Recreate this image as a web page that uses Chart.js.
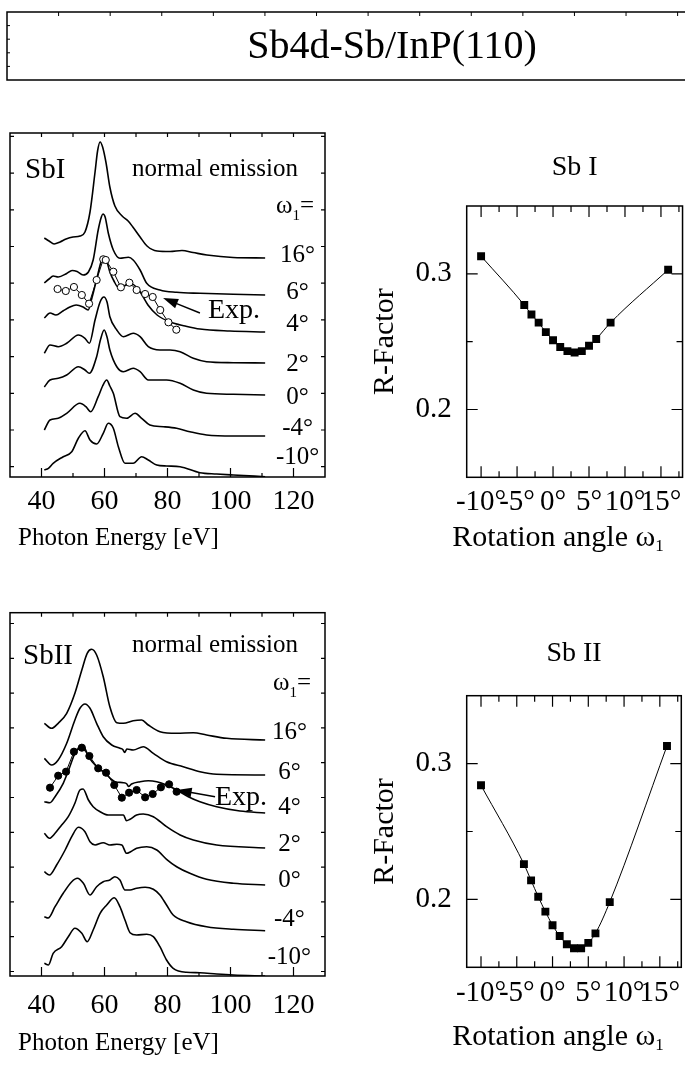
<!DOCTYPE html>
<html>
<head>
<meta charset="utf-8">
<script src="https://cdn.jsdelivr.net/npm/chart.js@4.4.1/dist/chart.umd.min.js"></script>
<style>
html,body{margin:0;padding:0;background:#fff;overflow:hidden;width:685px;height:1067px;}
canvas{position:absolute;}
</style>
</head>
<body>
<canvas id="cTitle" width="700" height="100" style="left:0;top:0"></canvas>
<canvas id="cTL" width="340" height="470" style="left:0;top:100px"></canvas>
<canvas id="cBL" width="340" height="487" style="left:0;top:580px"></canvas>
<canvas id="cTR" width="330" height="430" style="left:360px;top:140px"></canvas>
<canvas id="cBR" width="330" height="467" style="left:360px;top:600px"></canvas>
<script>
// ================= DATA =================
const energyTicks = [40, 60, 80, 100, 120];
const angleTicks = [-10, -5, 0, 5, 10, 15];
const rTicks = [0.2, 0.3];
const angleLabels = ['16°', '6°', '4°', '2°', '0°', '-4°', '-10°'];

// --- Sb I spectra: photon energy (eV) and intensity (arb. units, relative to each curve's baseline)
const sbI_offsets = [219, 182, 145, 114, 82, 41, 0];
const sbI_E_16 = [40.9,42.4,44.0,45.9,47.8,50.0,52.2,53.8,55.4,57.0,57.8,58.6,59.4,60.5,61.7,63.3,65.6,67.5,69.0,71.3,73.5,76.7,80.8,84.6,88.1,92.5,100.8,111.0];
const sbI_I_16 = [20,17,14,16,19,21,22,26,46,86,107,116,111,95,71,52,42,37,31,21,12,7,6.5,7.5,5.5,3,0.5,0];
const sbI_E_6 = [40.9,42.4,43.7,45.3,48.0,49.7,51.3,53.2,54.9,56.4,58.0,59.0,59.5,60.2,61.2,62.8,64.9,67.6,69.1,71.3,73.4,77.6,82.9,90.3,100.9,111.0];
const sbI_I_6 = [12,16,19,18,21.5,24.5,23.5,20,23,35,65,78,81,78,62,45,36.7,37.7,35,25,11.7,5,2.7,1.7,0.7,0];
const sbI_E_4 = [40.9,42.7,44.6,46.8,49.0,51.0,53.2,54.8,56.0,57.6,58.9,59.8,60.8,61.7,63.0,64.3,66.2,68.7,71.3,73.8,76.7,80.8,85.6,90.3,99.8,111.0];
const sbI_I_4 = [14,19,17,21,25,27,25,22,34,54,70,74,70,60,51,45,46,48,40,27,17,10,6,3,1,0];
const sbI_E_2 = [40.9,42.7,45.3,48.0,51.7,53.8,55.2,57.0,58.6,59.8,60.8,61.7,63.9,66.0,69.1,71.3,73.9,77.6,80.8,84.0,88.2,92.4,100.9,111.0];
const sbI_I_2 = [9.7,18,16.3,19.7,28,24.7,19.7,43,61,66,61,46.3,33,26.3,29.7,26.3,16.3,13,13,11.3,4.7,1.3,0.3,0];
const sbI_E_0 = [40.9,42.7,45.3,48.0,51.7,53.8,55.2,57.5,58.7,59.9,60.8,61.7,63.9,66.0,69.1,71.3,73.9,76.6,79.7,84.0,88.2,92.4,100.9,111.0];
const sbI_I_0 = [8,15,16.7,20,28.3,25,21.7,38.3,55,65,58,45,28.3,23.3,26.7,23.3,15,15,15,11.7,5,1.7,0.7,0];
const sbI_E_m4 = [40.9,42.7,45.3,48.0,52.2,54.1,55.6,58.0,59.4,60.7,61.7,62.8,64.9,67.0,69.7,71.8,74.4,78.7,82.9,87.1,92.4,100.9,111.0];
const sbI_I_m4 = [6,16,17.7,22.7,32.7,29.3,24.3,39.3,50,56,50,42.7,19.3,17.7,22.7,17.7,11,9.3,7.7,4.3,1,0,0];
const sbI_E_m10 = [40.9,42.2,43.7,46.9,49.6,51.7,53.8,55.4,57.5,59.6,61.2,62.8,64.4,66.5,69.1,71.8,73.9,76.6,79.7,84.0,90.3,95.6,100.9,111.0];
const sbI_I_m10 = [7,8.7,13.7,20.3,25.3,38.7,46.3,37,33,43.7,53.7,48.7,30.3,13.7,13.7,20.3,17,12,11,10.3,4.3,3,2,0.3];
const sbI_expE = [45.1,47.7,50.3,52.8,55.1,57.5,59.6,60.4,62.8,65.2,67.9,70.2,72.9,75.3,77.7,80.3,82.8];
const sbI_expI = [43,41,45,37,28.3,52,72.7,72,60.3,44.7,49.3,42,38,35,22,9.7,2.3];
const sbI_expOffset = 145;

// --- Sb II spectra
const sbII_offsets = [236, 201, 163, 128, 91, 45, 0];
const sbII_E_16 = [40.9,43.2,45.3,48.0,50.6,52.8,54.5,55.9,57.5,59.6,61.7,63.9,66.0,69.1,71.8,73.9,77.6,82.9,88.2,92.4,98.8,111.0];
const sbII_I_16 = [16.7,11.7,16.7,26.7,46.7,70,86.7,90.7,85,63.3,33.3,17.3,16.7,19.3,20,15,8.3,6.7,7.3,5,1.7,0];
const sbII_E_6 = [40.9,43.2,45.3,48.0,50.6,52.2,53.8,55.4,57.5,59.6,62.3,64.9,65.8,66.4,67.1,69.1,72.3,75.5,79.7,85.0,90.3,95.6,111.0];
const sbII_I_6 = [16.7,10,15,31.7,55,66.7,71,66.7,51.7,38.3,30,26.7,25.5,22.5,26,25,28.3,21.7,13.3,8.3,3.3,0.7,0];
const sbII_E_4 = [40.9,42.7,44.3,46.9,49.0,50.6,52.2,53.2,54.9,57.5,60.2,63.3,66.0,67.1,67.6,68.6,71.3,73.9,76.6,79.7,82.9,86.6,90.3,95.6,103.0,111.0];
const sbII_I_4 = [11.3,10.3,16.3,29.7,46.3,59.7,66.3,67.5,56.3,46.3,39.7,31.3,30.3,29,26.5,29,31.3,32.3,31.3,28,23,16.3,11.3,6.3,2,0];
const sbII_E_2 = [40.9,42.5,44.3,46.4,48.5,50.6,52.2,53.2,54.9,56.4,58.6,61.2,63.9,66.0,67.0,68.1,70.2,72.3,75.5,79.7,84.0,88.2,95.6,111.0];
const sbII_I_2 = [14.7,9.7,14.7,23,31.3,44.7,58,59,48,41.3,36.3,33,33,33,27.3,28.7,33,34,31.3,21.3,13,8,3,0];
const sbII_E_0 = [40.9,42.5,44.8,47.5,49.6,51.7,53.8,55.4,57.0,59.6,61.7,63.9,65.5,67.0,68.3,70.2,73.4,76.6,79.7,82.9,87.1,92.4,100.9,111.0];
const sbII_I_0 = [13.3,10,20,35,48.3,57.7,53.3,43.3,40,42.3,40,40.7,40,31.7,33.3,36.7,38.3,35,25.7,18.3,11.7,5.7,1.7,0];
const sbII_E_m4 = [40.9,42.1,44.3,46.9,49.6,51.4,53.3,55.4,57.5,59.6,61.7,63.3,64.9,66.5,68.1,70.2,72.9,75.5,77.6,79.7,81.8,86.0,92.4,100.9,111.0];
const sbII_I_m4 = [14.3,13,24.3,37.7,49.3,52.7,47.7,36,44.3,49.3,51,54.3,51,41,41,42.7,43.7,41.7,36,26,16,9.3,4.3,1.7,0.3];
const sbII_E_m10 = [40.9,42.2,43.7,46.4,48.5,50.6,52.8,54.5,56.4,58.6,60.7,63.1,64.9,66.5,68.1,70.2,73.4,75.5,77.6,79.7,81.8,86.0,90.3,95.6,100.9,111.0];
const sbII_I_m10 = [12.7,11,22.7,29.3,39.3,47.7,42.7,34.3,46,62.7,71,78.3,69.3,56,43.3,41,41.7,39.3,29.3,16,7.7,3.7,3.3,2,1,0];
const sbII_expE = [42.7,45.3,47.8,50.3,52.8,55.2,58.0,60.5,63.1,65.5,67.8,70.2,72.9,75.3,77.9,80.5,82.9];
const sbII_expI = [25.3,37.3,41.3,61.3,65.3,57,44.7,40.3,28,15.3,20.3,23,15.7,19,25.7,28.7,21.3];
const sbII_expOffset = 163;

// --- R-factor vs rotation angle
const rotAngles = [-10,-4,-3,-2,-1,0,1,2,3,4,5,6,8,16];
const rFactorSbI = [0.313,0.277,0.270,0.264,0.257,0.251,0.246,0.243,0.242,0.243,0.247,0.252,0.264,0.303];
const rFactorSbII = [0.284,0.226,0.214,0.202,0.191,0.181,0.173,0.167,0.164,0.164,0.168,0.175,0.198,0.313];

// ================= RENDERING =================
const FONT = "'Liberation Serif', 'Times New Roman', Times, serif";
Chart.defaults.font.family = FONT;
Chart.defaults.color = '#000';

function framePlugin(f) {
  return { id: 'frame', afterDatasetsDraw(chart) {
    const { ctx, chartArea: a, scales } = chart;
    const x = scales.x, y = scales.y;
    ctx.save();
    ctx.strokeStyle = '#000';
    ctx.lineWidth = f.width || 1.5;
    ctx.strokeRect(a.left, a.top, a.right - a.left, a.bottom - a.top);
    ctx.lineWidth = f.tickWidth || 1.2;
    ctx.beginPath();
    (f.bottom || []).forEach(([vals, len]) => vals.forEach(v => { const p = x.getPixelForValue(v); ctx.moveTo(p, a.bottom); ctx.lineTo(p, a.bottom - len); }));
    (f.top || []).forEach(([vals, len]) => vals.forEach(v => { const p = x.getPixelForValue(v); ctx.moveTo(p, a.top); ctx.lineTo(p, a.top + len); }));
    (f.left || []).forEach(([vals, len]) => vals.forEach(v => { const p = y.getPixelForValue(v); ctx.moveTo(a.left, p); ctx.lineTo(a.left + len, p); }));
    (f.right || []).forEach(([vals, len]) => vals.forEach(v => { const p = y.getPixelForValue(v); ctx.moveTo(a.right, p); ctx.lineTo(a.right - len, p); }));
    ctx.stroke();
    ctx.restore();
  }};
}

function textPlugin(items) {
  return { id: 'texts', afterDraw(chart) {
    const { ctx, scales } = chart;
    items.forEach(it => {
      const px = it.data ? scales.x.getPixelForValue(it.x) : it.x;
      const py = it.data ? scales.y.getPixelForValue(it.y) : it.y;
      const parts = it.parts || [{ t: it.text, size: it.size }];
      ctx.save();
      ctx.fillStyle = '#000';
      ctx.textBaseline = it.baseline || 'middle';
      ctx.textAlign = 'left';
      const widths = parts.map(p => { ctx.font = p.size + 'px ' + FONT; return ctx.measureText(p.t).width; });
      const total = widths.reduce((s, w) => s + w, 0);
      let cx = it.align === 'center' ? px - total / 2 : (it.align === 'right' ? px - total : px);
      parts.forEach((p, i) => { ctx.font = p.size + 'px ' + FONT; ctx.fillText(p.t, cx, py + (p.dy || 0)); cx += widths[i]; });
      ctx.restore();
    });
  }};
}

function arrowPlugin(arrows) {
  return { id: 'arrows', afterDatasetsDraw(chart) {
    const { ctx, scales } = chart;
    arrows.forEach(a => {
      const x1 = scales.x.getPixelForValue(a.x1), y1 = scales.y.getPixelForValue(a.y1);
      const x2 = scales.x.getPixelForValue(a.x2), y2 = scales.y.getPixelForValue(a.y2);
      const ang = Math.atan2(y2 - y1, x2 - x1), L = 15, W = 5;
      const c = Math.cos(ang), s = Math.sin(ang);
      ctx.save();
      ctx.strokeStyle = '#000'; ctx.fillStyle = '#000'; ctx.lineWidth = 1.4;
      ctx.beginPath(); ctx.moveTo(x1, y1); ctx.lineTo(x2 - c * L * 0.8, y2 - s * L * 0.8); ctx.stroke();
      ctx.beginPath(); ctx.moveTo(x2, y2);
      ctx.lineTo(x2 - c * L - s * W, y2 - s * L + c * W);
      ctx.lineTo(x2 - c * L + s * W, y2 - s * L - c * W);
      ctx.closePath(); ctx.fill();
      ctx.restore();
    });
  }};
}

const baseOpts = () => ({
  responsive: false, animation: false, devicePixelRatio: 1,
  plugins: { legend: { display: false }, tooltip: { enabled: false }, title: { display: false } },
  elements: { point: { radius: 0 } }
});

// ---------- Title box ----------
(function () {
  const o = baseOpts();
  o.layout = { padding: { left: 7, top: 12, right: 10, bottom: 20 } };
  o.scales = { x: { type: 'linear', min: 0, max: 13.24, display: false }, y: { type: 'linear', min: 0, max: 1, display: false } };
  new Chart(document.getElementById('cTitle'), {
    type: 'scatter', data: { datasets: [] }, options: o,
    plugins: [
      framePlugin({ width: 1.5, tickWidth: 1, top: [[[1,2,3,4,5,6,7,8,9,10,11,12,13], 4]], left: [[[0.2,0.4,0.6,0.8], 3]] }),
      textPlugin([{ text: 'Sb4d-Sb/InP(110)', size: 40, x: 392, y: 47, align: 'center' }])
    ]
  });
})();

// ---------- Spectra panels ----------
function spectraChart(id, P) {
  const datasets = [{
    data: P.expE.map((e, i) => ({ x: e, y: P.expI[i] + P.expOffset })),
    borderColor: '#000', borderWidth: 1, tension: 0,
    pointRadius: 3.6, pointBorderWidth: 1, pointBackgroundColor: P.expFill, pointBorderColor: '#000'
  }];
  P.curvesE.forEach((E, k) => datasets.push({
    data: E.map((e, i) => ({ x: e, y: P.curvesI[k][i] + P.offsets[k] })),
    borderColor: '#000', borderWidth: 1.6, pointRadius: 0, cubicInterpolationMode: 'monotone'
  }));
  const o = baseOpts();
  o.layout = { padding: P.padding };
  o.scales = {
    x: {
      type: 'linear', min: 30, max: 130, position: 'bottom',
      grid: { display: false, drawTicks: false }, border: { display: false },
      ticks: { font: { size: 28 }, padding: P.tickPad, autoSkip: false, maxRotation: 0, minRotation: 0, color: '#000' },
      afterBuildTicks: s => { s.ticks = energyTicks.map(v => ({ value: v })); },
      afterFit: s => { s.height = P.xAxisH; }
    },
    y: { type: 'linear', min: 0, max: P.yMax, display: false }
  };
  const texts = [
    { text: P.name, size: 29, x: P.nameX, y: P.nameY, baseline: 'alphabetic' },
    { text: 'normal emission', size: 25, x: 132, y: P.neY, baseline: 'alphabetic' },
    { parts: [{ t: 'ω', size: 25 }, { t: '1', size: 15, dy: 7 }, { t: '=', size: 25 }], x: P.omegaX, y: P.omegaY, align: 'center', baseline: 'alphabetic' },
    { text: 'Exp.', size: 28, x: P.expTextX, y: P.expTextY, baseline: 'alphabetic' },
    { text: 'Photon Energy [eV]', size: 25, x: 18, y: P.axisTitleY }
  ];
  angleLabels.forEach((t, k) => texts.push({ text: t, size: 25, data: true, x: P.labelX, y: P.labelY[k], align: 'center' }));
  const ySteps = Array.from({ length: P.yTickN }, (_, i) => P.yTick0 + P.yTickStep * i);
  return new Chart(document.getElementById(id), {
    type: 'line', data: { datasets }, options: o,
    plugins: [
      framePlugin({ width: 1.5, tickWidth: 1.2,
        bottom: [[energyTicks, 9], [[50, 70, 90, 110], 4]],
        top: [[[40, 50, 60, 70, 80, 90, 100, 110, 120], 4]],
        left: [[ySteps, 4]], right: [[ySteps, 4]] }),
      arrowPlugin([P.arrow]),
      textPlugin(texts)
    ]
  });
}

spectraChart('cTL', {
  name: 'SbI', curvesE: [sbI_E_16, sbI_E_6, sbI_E_4, sbI_E_2, sbI_E_0, sbI_E_m4, sbI_E_m10],
  curvesI: [sbI_I_16, sbI_I_6, sbI_I_4, sbI_I_2, sbI_I_0, sbI_I_m4, sbI_I_m10],
  offsets: sbI_offsets, expE: sbI_expE, expI: sbI_expI, expOffset: sbI_expOffset, expFill: '#fff',
  padding: { left: 10, top: 33, right: 15, bottom: 0 }, yMax: 344, xAxisH: 93, tickPad: 8,
  nameX: 25, nameY: 78, neY: 76, omegaX: 295, omegaY: 113, expTextX: 208, expTextY: 218, axisTitleY: 438,
  labelX: 121.3, labelY: [222, 185, 153, 113, 80, 49, 20],
  arrow: { x1: 90.3, y1: 164, x2: 78.6, y2: 179 },
  yTick0: 10.3, yTickStep: 36.7, yTickN: 10
});

spectraChart('cBL', {
  name: 'SbII', curvesE: [sbII_E_16, sbII_E_6, sbII_E_4, sbII_E_2, sbII_E_0, sbII_E_m4, sbII_E_m10],
  curvesI: [sbII_I_16, sbII_I_6, sbII_I_4, sbII_I_2, sbII_I_0, sbII_I_m4, sbII_I_m10],
  offsets: sbII_offsets, expE: sbII_expE, expI: sbII_expI, expOffset: sbII_expOffset, expFill: '#000',
  padding: { left: 10, top: 32.7, right: 15, bottom: 0 }, yMax: 363.3, xAxisH: 91, tickPad: 13,
  nameX: 23, nameY: 84, neY: 71.7, omegaX: 292, omegaY: 110, expTextX: 215, expTextY: 225, axisTitleY: 463,
  labelX: 118.7, labelY: [244, 204, 169, 132, 96, 57, 19],
  arrow: { x1: 95.1, y1: 179.3, x2: 82.9, y2: 186 },
  yTick0: 4.5, yTickStep: 34.8, yTickN: 11
});

// ---------- R-factor panels ----------
function rChart(id, P) {
  const o = baseOpts();
  o.layout = { padding: { left: 0, top: 0, right: 2.8, bottom: 0 } };
  o.plugins.title = { display: true, text: P.title, fullSize: false, color: '#000',
    font: { size: 28, weight: 'normal' }, padding: { top: P.titlePadTop, bottom: P.titlePadBottom } };
  o.scales = {
    x: {
      type: 'linear', min: -12, max: 18,
      grid: { display: false, drawTicks: false }, border: { display: false },
      ticks: { font: { size: 29 }, padding: P.tickPad, autoSkip: false, maxRotation: 0, minRotation: 0, callback: v => v + '°' },
      afterBuildTicks: s => { s.ticks = angleTicks.map(v => ({ value: v })); },
      afterFit: s => { s.height = P.xAxisH; }
    },
    y: {
      type: 'linear', min: 0.15, max: 0.35,
      grid: { display: false, drawTicks: false }, border: { display: false },
      ticks: { font: { size: 29 }, padding: 15, callback: v => Number(v).toFixed(1) },
      afterBuildTicks: s => { s.ticks = rTicks.map(v => ({ value: v })); },
      afterFit: s => { s.width = 106.7; },
      title: { display: true, text: 'R-Factor', font: { size: 30 }, padding: { top: 7, bottom: 0 } }
    }
  };
  return new Chart(document.getElementById(id), {
    type: 'line',
    data: { datasets: [{
      data: rotAngles.map((a, i) => ({ x: a, y: P.values[i] })),
      borderColor: '#000', borderWidth: 1, cubicInterpolationMode: 'monotone',
      pointStyle: 'rect', pointRadius: 5.6, pointBackgroundColor: '#000', pointBorderColor: '#000', pointBorderWidth: 0
    }] },
    options: o,
    plugins: [
      framePlugin({ width: 1.5, tickWidth: 1.2,
        bottom: [[angleTicks, 11], [[-7.5, -2.5, 2.5, 7.5, 12.5, 17.5], 6]],
        top: [[angleTicks, 11], [[-7.5, -2.5, 2.5, 7.5, 12.5, 17.5], 6]],
        left: [[rTicks, 11], [[0.25], 6]], right: [[rTicks, 11], [[0.25], 6]] }),
      textPlugin([{ parts: [{ t: 'Rotation angle ω', size: 30 }, { t: '1', size: 17, dy: 9 }], x: 198, y: P.axisTitleY, align: 'center' }])
    ]
  });
}

rChart('cTR', { title: 'Sb I', values: rFactorSbI, titlePadTop: 11.2, titlePadBottom: 21.2, xAxisH: 92.7, tickPad: 8, axisTitleY: 398 });
rChart('cBR', { title: 'Sb II', values: rFactorSbII, titlePadTop: 37.2, titlePadBottom: 24.9, xAxisH: 99.7, tickPad: 9, axisTitleY: 437 });
</script>
</body>
</html>
